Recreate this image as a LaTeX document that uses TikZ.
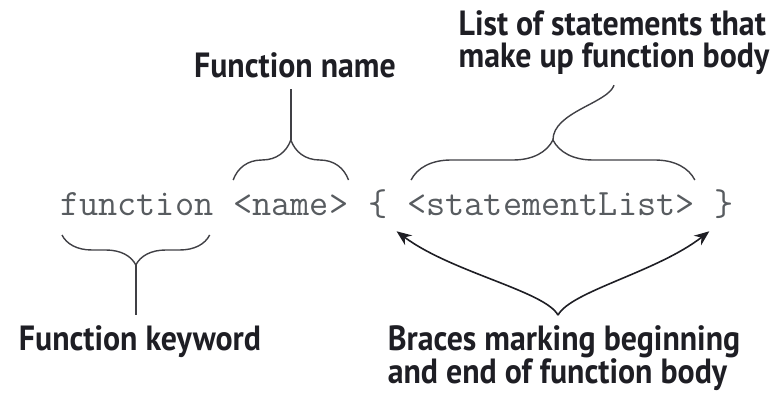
\documentclass[tikz,border=0pt]{standalone}
\usepackage{fontspec}
\newfontfamily\lblfont[FakeStretch=0.91]{PT Sans}
\usetikzlibrary{positioning,decorations.pathreplacing,arrows.meta}
\definecolor{codegray}{RGB}{88,92,96}
\definecolor{lblblack}{RGB}{30,30,36}
\tikzset{
  code/.style={font=\ttfamily\fontsize{37.2}{40}\selectfont, text=codegray, inner sep=0pt},
  lbl/.style={font=\lblfont\bfseries\fontsize{35}{32}\selectfont, text=lblblack, inner sep=10pt},
  stem/.style={line width=1.4pt, draw=lblblack!85},
  brc/.style={stem, decorate, decoration={brace, amplitude=#1}},
  arr/.style={-{Stealth[length=15pt,width=12pt]}, line width=1.6pt, draw=lblblack}
}
\begin{document}
\begin{tikzpicture}[x=1pt, y=-1pt, node distance=19.5pt]
\useasboundingbox (0,0) rectangle (784,398);
% the code line
\node[code, anchor=base west] (kw) at (60,215) {function};
\node[code, base right=of kw] (nm) {<name>};
\node[code, base right=of nm] (lb) {\{};
\node[code, base right=of lb] (sl) {<statementList>};
\node[code, base right=of sl] (rb) {\}};
% labels
\node[lbl, anchor=base] (nameLbl) at (295,78) {Function name};
\node[lbl, align=left] (bodyLbl) at (614,43) {List of statements that\\make up function body};
\node[lbl, anchor=base] (kwLbl) at (140,350) {Function keyword};
\node[lbl, align=left] (brLbl) at (564,358) {Braces marking beginning\\and end of function body};
% braces
\draw[brc=30] ([shift={(-4,20)}]kw.base east) -- ([shift={(2,20)}]kw.base west);
\coordinate (kwTip) at ([shift={(-1,50)}]kw.base);
\draw[stem] (kwTip) -- (kwTip |- kwLbl.north);
\draw[brc=40] ([shift={(0,-35)}]nm.base west) -- ([shift={(0,-35)}]nm.base east);
\coordinate (nmTip) at ([shift={(0,-75)}]nm.base);
\draw[stem] (nmTip) -- (nmTip |- nameLbl.south);
\draw[brc=40] ([shift={(4,-35)}]sl.base west) -- ([shift={(0,-35)}]sl.base east);
\coordinate (slTip) at ([shift={(2,-75)}]sl.base);
\draw[stem] (slTip) .. controls +(0,-28) and +(-6,18) .. (bodyLbl.south);
% arrows to the braces
\coordinate (brJoin) at ([shift={(-6,0)}]brLbl.north);
\draw[arr] (brJoin) .. controls +(-13,-24) and +(55,41) .. ([shift={(9,13)}]lb.south east);
\draw[arr] (brJoin) .. controls +(13,-24) and +(-53,41) .. ([shift={(-5,13)}]rb.south west);
\end{tikzpicture}
\end{document}
